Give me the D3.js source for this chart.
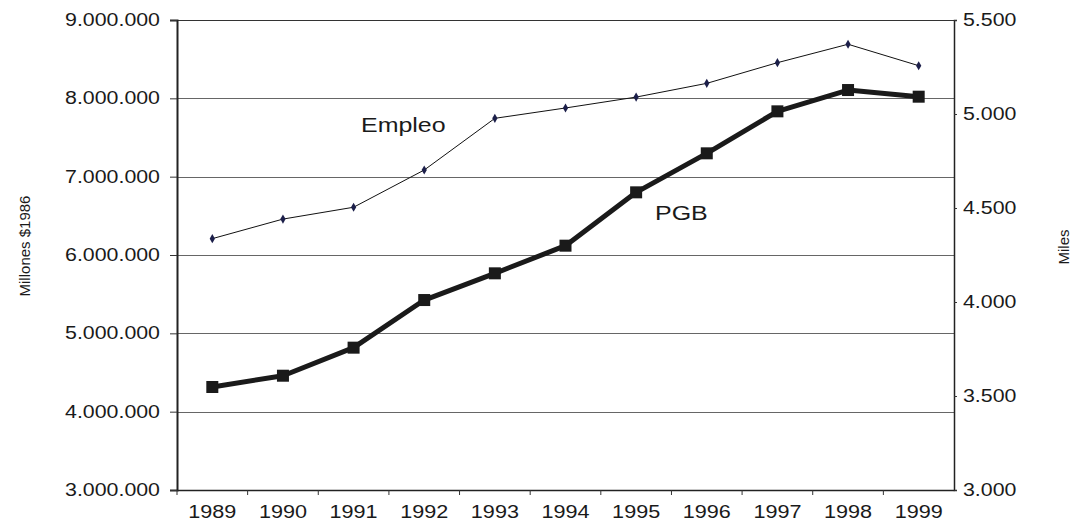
<!DOCTYPE html>
<html>
<head>
<meta charset="utf-8">
<script src="https://cdn.jsdelivr.net/npm/d3@7"></script>
<style>
  body { margin: 0; background: #fff; }
  svg text { font-family: "Liberation Sans", Arial, sans-serif; fill: #1a1a1a; }
</style>
</head>
<body>
<div id="chart"></div>
<script>
// data
var years = ['1989', '1990', '1991', '1992', '1993', '1994', '1995', '1996', '1997', '1998', '1999'];
var pgb = [4315000, 4459000, 4817000, 5425000, 5766000, 6119000, 6800000, 7298000, 7834000, 8106000, 8021000];
var empleo = [4337, 4441, 4504, 4702, 4977, 5032, 5090, 5163, 5273, 5371, 5257];
var leftTicks = [3000000, 4000000, 5000000, 6000000, 7000000, 8000000, 9000000];
var rightTicks = [3000, 3500, 4000, 4500, 5000, 5500];

var width = 1072, height = 521;
var margin = {top: 20, right: 118, bottom: 31, left: 177};

var svg = d3.select('#chart').append('svg')
  .attr('width', width)
  .attr('height', height);

var x = d3.scaleBand()
  .domain(years)
  .range([margin.left, width - margin.right]);

var yL = d3.scaleLinear()
  .domain([3000000, 9000000])
  .range([height - margin.bottom, margin.top]);

var yR = d3.scaleLinear()
  .domain([3000, 5500])
  .range([height - margin.bottom, margin.top]);

// numbers use dots as thousands separators
var fmt = d3.formatLocale({decimal: ',', thousands: '.', grouping: [3], currency: ['$', '']}).format(',d');

var cx = function(d, i) { return x(years[i]) + x.bandwidth() / 2; };

// the original's lettering is a bit wider than plain Arial
function widen(sel, k) {
  sel.each(function() {
    var len = this.getComputedTextLength();
    d3.select(this).attr('textLength', len * k).attr('lengthAdjust', 'spacingAndGlyphs');
  });
}

// gridlines
svg.append('g')
  .selectAll('line')
  .data(leftTicks.slice(1, -1))
  .join('line')
  .attr('x1', margin.left)
  .attr('x2', width - margin.right)
  .attr('y1', function(d) { return Math.round(yL(d)) + 0.5; })
  .attr('y2', function(d) { return Math.round(yL(d)) + 0.5; })
  .attr('stroke', '#666')
  .attr('stroke-width', 1.2);

// top border
svg.append('line')
  .attr('x1', margin.left - 7).attr('x2', width - margin.right)
  .attr('y1', margin.top + 0.5).attr('y2', margin.top + 0.5)
  .attr('stroke', '#333')
  .attr('stroke-width', 1.2);

// left axis
var gl = svg.append('g')
  .attr('transform', 'translate(' + margin.left + ',0)')
  .call(d3.axisLeft(yL).tickValues(leftTicks).tickFormat(fmt).tickSize(7).tickPadding(10));
gl.select('.domain').attr('stroke', '#222').attr('stroke-width', 2);
gl.selectAll('.tick line').attr('stroke', '#333');
gl.selectAll('.tick text').style('font-size', '17.5px').call(widen, 1.22);

// right axis
var gr = svg.append('g')
  .attr('transform', 'translate(' + (width - margin.right) + ',0)')
  .call(d3.axisRight(yR).tickValues(rightTicks).tickFormat(fmt).tickSize(3).tickPadding(6));
gr.select('.domain').attr('stroke', '#222').attr('stroke-width', 1.5);
gr.selectAll('.tick line').attr('stroke', '#333');
gr.selectAll('.tick text').style('font-size', '17.5px').call(widen, 1.22);

// bottom axis with ticks on category boundaries
var gb = svg.append('g')
  .attr('transform', 'translate(0,' + (height - margin.bottom) + ')')
  .call(d3.axisBottom(x).tickSize(0).tickPadding(15));
gb.select('.domain').attr('stroke', '#222').attr('stroke-width', 1.5);
gb.selectAll('.tick text').style('font-size', '18px').call(widen, 1.2);
gb.selectAll('line.sep')
  .data(years)
  .join('line')
  .attr('class', 'sep')
  .attr('x1', function(d) { return x(d); })
  .attr('x2', function(d) { return x(d); })
  .attr('y1', 0)
  .attr('y2', 5)
  .attr('stroke', '#333');

// Empleo (right axis)
var lineE = d3.line()
  .x(cx)
  .y(function(d) { return yR(d); });

svg.append('path')
  .datum(empleo)
  .attr('d', lineE)
  .attr('fill', 'none')
  .attr('stroke', '#111')
  .attr('stroke-width', 1);

svg.append('g')
  .selectAll('path')
  .data(empleo)
  .join('path')
  .attr('d', d3.symbol(d3.symbolDiamond, 24))
  .attr('transform', function(d, i) { return 'translate(' + cx(d, i) + ',' + yR(d) + ')'; })
  .attr('fill', '#1c1f4a');

// PGB (left axis)
var lineP = d3.line()
  .x(cx)
  .y(function(d) { return yL(d); });

svg.append('path')
  .datum(pgb)
  .attr('d', lineP)
  .attr('fill', 'none')
  .attr('stroke', '#1a1a1a')
  .attr('stroke-width', 5)
  .attr('stroke-linejoin', 'round');

svg.append('g')
  .selectAll('rect')
  .data(pgb)
  .join('rect')
  .attr('x', function(d, i) { return cx(d, i) - 6; })
  .attr('y', function(d) { return yL(d) - 6; })
  .attr('width', 12)
  .attr('height', 12)
  .attr('fill', '#1a1a1a');

// series labels
svg.append('text')
  .attr('x', 361).attr('y', 132)
  .style('font-size', '19.5px')
  .text('Empleo')
  .call(widen, 1.28);

svg.append('text')
  .attr('x', 655).attr('y', 220)
  .style('font-size', '19.5px')
  .text('PGB')
  .call(widen, 1.28);

// axis titles
svg.append('text')
  .attr('transform', 'translate(24,246) rotate(-90)')
  .attr('text-anchor', 'middle')
  .attr('dominant-baseline', 'central')
  .style('font-size', '15px')
  .text('Millones $1986');

svg.append('text')
  .attr('transform', 'translate(1063,247) rotate(-90)')
  .attr('text-anchor', 'middle')
  .attr('dominant-baseline', 'central')
  .style('font-size', '15px')
  .text('Miles');
</script>
</body>
</html>
